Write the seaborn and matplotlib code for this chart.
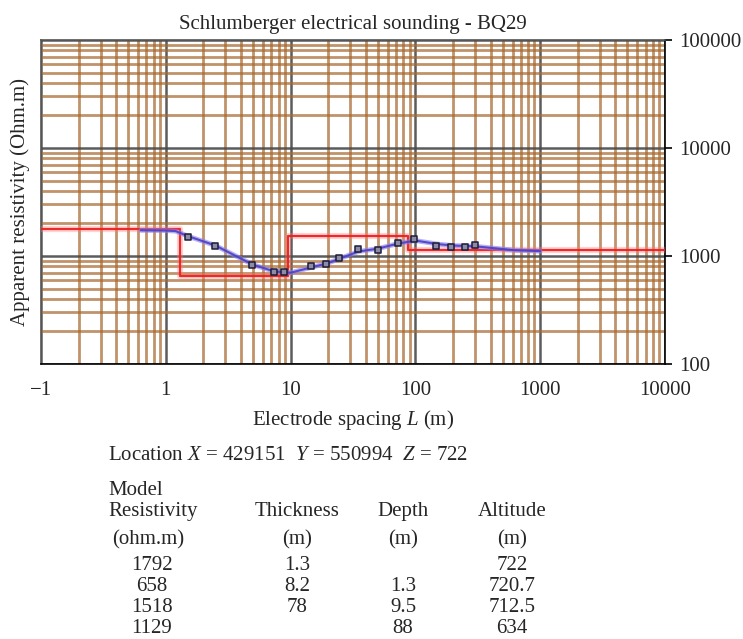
import matplotlib
matplotlib.use("Agg")
import matplotlib.pyplot as plt
import matplotlib.ticker as mticker
import numpy as np
import pandas as pd
import seaborn as sns

# ---------------- data ----------------
# measured apparent resistivity (AB/2 in m, rho in Ohm.m)
meas_spacing = [1.5, 2.5, 4.9, 7.4, 8.9, 14.6, 19.2, 24.6, 34.5, 50, 72, 97, 146, 194, 248, 300]
meas_rho = [1510, 1250, 825, 716, 706, 813, 837, 965, 1150, 1140, 1310, 1440, 1240, 1200, 1200, 1265]

# calculated (model) sounding curve
curve_spacing = [0.63, 1.0, 1.2, 1.5, 2.5, 3.2, 5.0, 7.4, 10, 15, 20, 25, 35, 50, 72, 100, 150, 200, 300, 630, 1000]
curve_rho = [1730, 1720, 1700, 1530, 1250, 1080, 830, 720, 700, 790, 860, 950, 1100, 1170, 1300, 1390, 1290, 1250, 1230, 1130, 1110]

# layered model
model_resistivity = [1792, 658, 1518, 1129]
model_thickness = ["1.3", "8.2", "78", ""]
model_depth = [1.3, 9.5, 88]
model_depth_labels = ["", "1.3", "9.5", "88"]
model_altitude = ["722", "720.7", "712.5", "634"]

x_ticks = [0.1, 1, 10, 100, 1000, 10000]
x_ticklabels = ["\u22121", "1", "10", "100", "1000", "10000"]
y_ticks = [100, 1000, 10000, 100000]
y_ticklabels = ["100", "1000", "10000", "100000"]

title = "Schlumberger electrical sounding - BQ29"
location = "Location $X$ = 429151  $Y$ = 550994  $Z$ = 722"

# ---------------- style ----------------
sns.set_style("white")
plt.rcParams["font.family"] = ["Liberation Serif", "DejaVu Serif"]
plt.rcParams["mathtext.fontset"] = "custom"
plt.rcParams["mathtext.rm"] = "Liberation Serif"
plt.rcParams["mathtext.it"] = "Liberation Serif:italic"
FS = 15

W, H = 743, 639
fig = plt.figure(figsize=(W / 100, H / 100), dpi=100)
ax = fig.add_axes([41 / W, 1 - 364 / H, (665 - 41) / W, (364 - 40) / H])
ax.set_xscale("log")
ax.set_yscale("log")
xmin, xmax = 0.1, 10000
ax.set_xlim(xmin, xmax)
ax.set_ylim(100, 100000)

# grid
ax.xaxis.set_minor_locator(mticker.LogLocator(base=10, subs=np.arange(2, 10)))
ax.yaxis.set_minor_locator(mticker.LogLocator(base=10, subs=np.arange(2, 10)))
ax.grid(which="minor", color="#a86a30", linewidth=2.0, alpha=0.72, zorder=0)
ax.grid(which="major", color="#4a4a4a", linewidth=1.8, alpha=0.9, zorder=0)
ax.set_axisbelow(True)

# model step line
step_x = [xmin] + model_depth + [xmax]
step_y = model_resistivity + [model_resistivity[-1]]
step_df = pd.DataFrame({"x": step_x, "y": step_y})
sns.lineplot(data=step_df, x="x", y="y", ax=ax, drawstyle="steps-post",
             color="#ff8080", linewidth=4.5, alpha=0.35, sort=False, zorder=3)
sns.lineplot(data=step_df, x="x", y="y", ax=ax, drawstyle="steps-post",
             color="#ee2020", linewidth=1.6, alpha=0.95, sort=False, zorder=4)

# calculated curve
curve_df = pd.DataFrame({"x": curve_spacing, "y": curve_rho})
sns.lineplot(data=curve_df, x="x", y="y", ax=ax, color="#8a80e8",
             linewidth=3.5, alpha=0.6, sort=False, zorder=5)
sns.lineplot(data=curve_df, x="x", y="y", ax=ax, color="#4b3fc8",
             linewidth=1.5, alpha=0.9, sort=False, zorder=6)

# measured points
meas_df = pd.DataFrame({"x": meas_spacing, "y": meas_rho})
sns.scatterplot(data=meas_df, x="x", y="y", ax=ax, marker="s", s=20,
                color="#8c8ca8", edgecolor="#1c1c3a", linewidth=1.1, zorder=7)

# ticks
ax.set_xticks(x_ticks)
ax.set_xticklabels(x_ticklabels, fontsize=FS)
ax.set_yticks(y_ticks)
ax.set_yticklabels(y_ticklabels, fontsize=FS)
ax.yaxis.tick_right()
ax.tick_params(axis="both", which="major", direction="out", length=5, width=1.2,
               color="black")
ax.tick_params(axis="x", which="major", pad=7)
ax.tick_params(axis="y", which="major", pad=5)
ax.tick_params(axis="both", which="minor", length=0)
ax.tick_params(axis="y", which="major", right=True, left=False, labelright=True, labelleft=False)

for side, sp in ax.spines.items():
    sp.set_visible(True)
    sp.set_linewidth(1.2)
    sp.set_color("black" if side in ("bottom", "right") else "#555555")

ax.set_xlabel("Electrode spacing $L$ (m)", fontsize=FS, labelpad=6)
ax.set_ylabel("Apparent resistivity (Ohm.m)", fontsize=FS, labelpad=8)
ax.yaxis.set_label_position("left")
ax.set_title(title, fontsize=FS, pad=8)

# ---------------- text table ----------------
def fy(py):
    return 1 - py / H

kw = dict(fontsize=FS, va="baseline")
fig.text(108 / W, fy(460), location, ha="left", **kw)
fig.text(108 / W, fy(495), "Model", ha="left", **kw)
fig.text(108 / W, fy(516), "Resistivity", ha="left", **kw)
fig.text(112 / W, fy(544), "(ohm.m)", ha="left", **kw)

col_x = {"res": 152, "thick": 297, "depth": 403, "alt": 512}
fig.text(col_x["thick"] / W, fy(516), "Thickness", ha="center", **kw)
fig.text(col_x["depth"] / W, fy(516), "Depth", ha="center", **kw)
fig.text(col_x["alt"] / W, fy(516), "Altitude", ha="center", **kw)
for c in ("thick", "depth", "alt"):
    fig.text(col_x[c] / W, fy(544), "(m)", ha="center", **kw)

row_y = [570, 591, 612, 633]
for i, yy in enumerate(row_y):
    fig.text(col_x["res"] / W, fy(yy), str(model_resistivity[i]), ha="center", **kw)
    fig.text(col_x["thick"] / W, fy(yy), model_thickness[i], ha="center", **kw)
    fig.text(col_x["depth"] / W, fy(yy), model_depth_labels[i], ha="center", **kw)
    fig.text(col_x["alt"] / W, fy(yy), model_altitude[i], ha="center", **kw)

fig.savefig("out.png", dpi=100)
